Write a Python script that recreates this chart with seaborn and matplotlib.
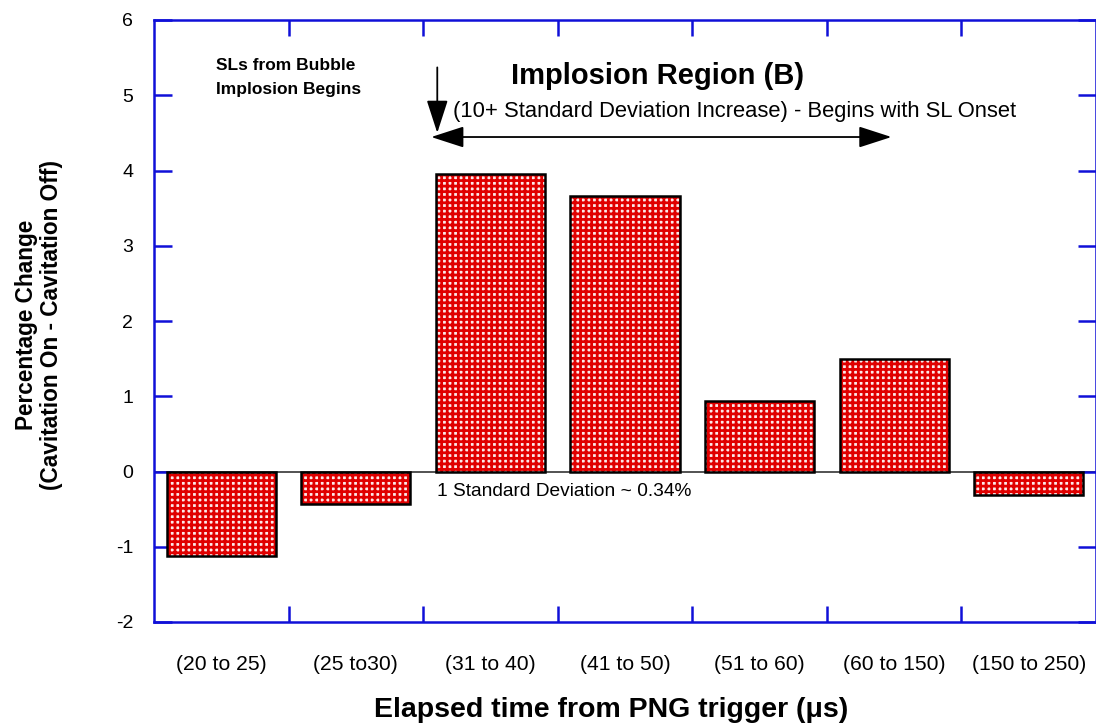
import matplotlib
matplotlib.use("Agg")
import matplotlib.pyplot as plt
import seaborn as sns
import pandas as pd

categories = ["(20 to 25)", "(25 to30)", "(31 to 40)", "(41 to 50)",
              "(51 to 60)", "(60 to 150)", "(150 to 250)"]
values = [-1.12, -0.435, 3.95, 3.66, 0.94, 1.49, -0.31]
y_ticks = [-2, -1, 0, 1, 2, 3, 4, 5, 6]

sns.set_theme(style="white")
plt.rcParams['font.family'] = ['Liberation Sans', 'DejaVu Sans']
plt.rcParams['hatch.linewidth'] = 2.0
plt.rcParams['text.color'] = 'black'
plt.rcParams['axes.labelcolor'] = 'black'

df = pd.DataFrame({"cat": categories, "val": values})

fig = plt.figure(figsize=(10.96, 7.28), dpi=100)
ax = fig.add_axes([154/1096, 1 - 622/728, 942/1096, 602/728])

# hatched fill
sns.barplot(data=df, x="cat", y="val", order=categories, ax=ax,
            color="#fbeaea", width=0.81, saturation=1, linewidth=0)
for p in ax.patches:
    p.set_hatch("+++")
    p.set_edgecolor("#e00000")
    p.set_linewidth(0)
n_fill = len(ax.patches)
# black outlines
sns.barplot(data=df, x="cat", y="val", order=categories, ax=ax,
            fill=False, color="black", width=0.81, linewidth=1.8)
for p in ax.patches[n_fill:]:
    p.set_edgecolor("black")

ax.axhline(0, color="#444444", lw=1.3, zorder=0.5)

ax.set_ylim(-2, 6)
ax.set_xlim(-0.5, 6.5)
ax.set_yticks(y_ticks)
ax.set_yticklabels([str(t) for t in y_ticks], fontsize=14)

# x: major ticks at boundaries, labels at centres (minor)
ax.set_xticks([i + 0.5 for i in range(len(categories) - 1)])
ax.set_xticklabels([])
ax.set_xticks(range(len(categories)), minor=True)
ax.set_xticklabels(categories, minor=True, fontsize=15.2)

blue = "#1010d8"
for s in ax.spines.values():
    s.set_visible(True)
    s.set_color(blue)
    s.set_linewidth(1.8)
ax.tick_params(axis="x", which="major", direction="in", length=11.5, width=1.8,
               color=blue, top=True, bottom=True)
ax.tick_params(axis="x", which="minor", length=0, pad=24, labelcolor="black")
ax.tick_params(axis="y", which="major", direction="in", length=13, width=1.8,
               color=blue, left=True, right=True, pad=15, labelcolor="black")

ax.set_xlabel("Elapsed time from PNG trigger (\u03bcs)", fontsize=20.5, fontweight="bold")
ax.xaxis.set_label_coords(0.4857, -0.124)
ax.set_ylabel("Percentage Change\n(Cavitation On - Cavitation Off)", fontsize=16.3,
              fontweight="bold", linespacing=1.1)
ax.yaxis.set_label_coords(-0.097, 0.494)

# annotations
ax.text(-0.04, 5.23, "SLs from Bubble\nImplosion Begins", fontsize=12.5,
        fontweight="bold", ha="left", va="center", linespacing=1.75)
ax.text(3.24, 5.26, "Implosion Region (B)", fontsize=21, fontweight="bold",
        ha="center", va="center")
ax.text(1.724, 4.79, "(10+ Standard Deviation Increase) - Begins with SL Onset",
        fontsize=15.8, ha="left", va="center")
ax.text(1.605, -0.27, "1 Standard Deviation ~ 0.34%", fontsize=13.8,
        ha="left", va="center")
ax.annotate("", xy=(1.605, 4.50), xytext=(1.605, 5.37),
            arrowprops=dict(arrowstyle="-|>,head_length=1.7,head_width=0.55",
                            color="black", lw=1.3, shrinkA=0, shrinkB=0))
ax.annotate("", xy=(1.56, 4.445), xytext=(4.98, 4.445),
            arrowprops=dict(arrowstyle="<|-|>,head_length=1.7,head_width=0.55",
                            color="black", lw=1.3, shrinkA=0, shrinkB=0))

fig.savefig("out.png", dpi=100)
